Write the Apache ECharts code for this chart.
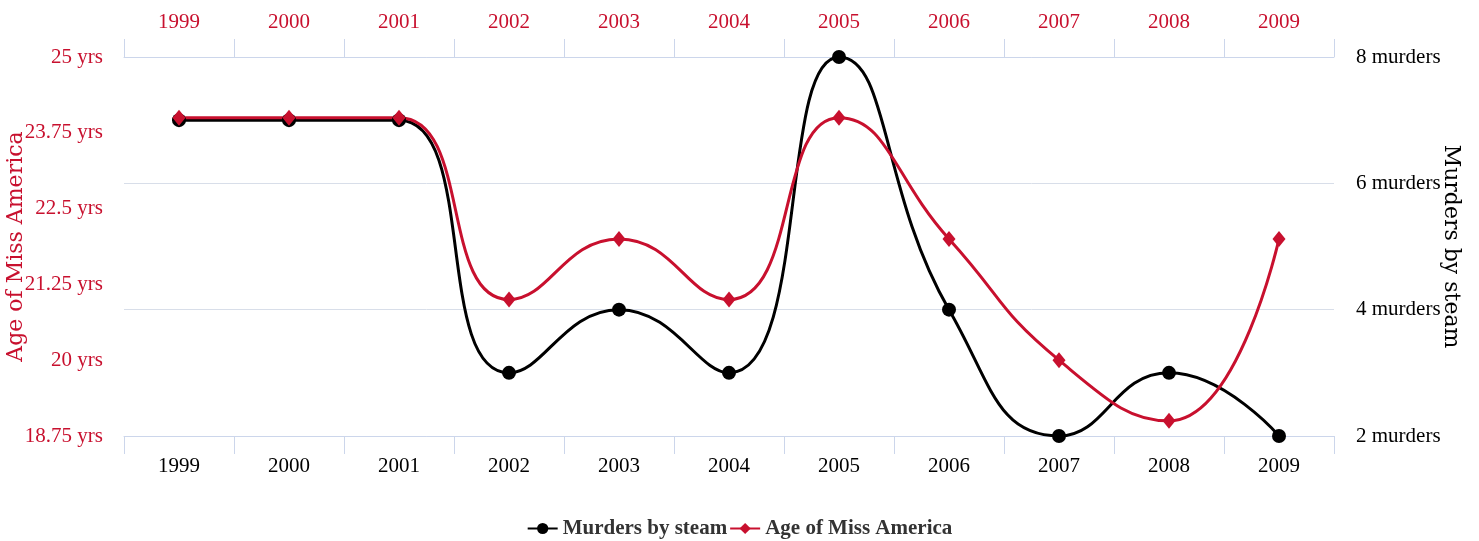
<!DOCTYPE html>
<html>
<head>
<meta charset="utf-8">
<script src="https://cdn.jsdelivr.net/npm/echarts@6/dist/echarts.min.js"></script>
<style>
html,body{margin:0;padding:0;background:#fff;}
#chart{width:1479px;height:541px;}
</style>
</head>
<body>
<div id="chart"></div>
<script>
var years = ['1999','2000','2001','2002','2003','2004','2005','2006','2007','2008','2009'];
var murdersBySteam = [7, 7, 7, 3, 4, 3, 8, 4, 2, 3, 2];
var ageOfMissAmerica = [24, 24, 24, 21, 22, 21, 24, 22, 20, 19, 22];

var RED = '#c8102e';
var AXIS = '#ccd6eb';
var FONT = '"Liberation Serif", "Times New Roman", serif';
var NAMEFONT = '"DejaVu Serif", serif';

var chart = echarts.init(document.getElementById('chart'));
chart.setOption({
  backgroundColor: '#fff',
  animation: false,
  grid: { left: 124, right: 145, top: 57, bottom: 105, containLabel: false, outerBoundsMode: 'none' },
  legend: {
    top: 513,
    left: 'center',
    itemGap: 2,
    itemWidth: 30,
    itemHeight: 14,
    textStyle: { fontFamily: FONT, fontSize: 21, fontWeight: 'bold', color: '#333' },
    data: ['Murders by steam', 'Age of Miss America']
  },
  xAxis: [
    {
      type: 'category', data: years, position: 'bottom', boundaryGap: true,
      axisLine: { show: true, lineStyle: { color: AXIS, width: 1 } },
      axisTick: { show: true, length: 18, lineStyle: { color: AXIS } },
      axisLabel: { color: '#000', fontFamily: FONT, fontSize: 21, margin: 20 },
      splitLine: { show: false }
    },
    {
      type: 'category', data: years, position: 'top', boundaryGap: true,
      axisLine: { show: true, lineStyle: { color: AXIS, width: 1 } },
      axisTick: { show: true, length: 18, lineStyle: { color: AXIS } },
      axisLabel: { color: RED, fontFamily: FONT, fontSize: 21, margin: 24 },
      splitLine: { show: false }
    }
  ],
  yAxis: [
    {
      type: 'value', position: 'left', min: 18.75, max: 25, interval: 1.25,
      name: 'Age of Miss America', nameLocation: 'middle', nameGap: 97, nameMoveOverlap: false,
      nameTextStyle: { color: RED, fontFamily: NAMEFONT, fontSize: 22 },
      axisLine: { show: false }, axisTick: { show: false },
      axisLabel: { color: RED, fontFamily: FONT, fontSize: 21, margin: 21,
        formatter: function (v) { return v + ' yrs'; } },
      splitLine: { show: false }
    },
    {
      type: 'value', position: 'right', min: 2, max: 8, interval: 2,
      name: 'Murders by steam', nameLocation: 'middle', nameGap: 106, nameRotate: -90, nameMoveOverlap: false,
      nameTextStyle: { color: '#000', fontFamily: NAMEFONT, fontSize: 22 },
      axisLine: { show: false }, axisTick: { show: false },
      axisLabel: { color: '#000', fontFamily: FONT, fontSize: 21, margin: 22,
        formatter: function (v) { return v + ' murders'; } },
      splitLine: { show: true, lineStyle: { color: '#d8dee9', width: 1 } }
    }
  ],
  series: [
    {
      name: 'Murders by steam', type: 'line', data: murdersBySteam,
      xAxisIndex: 0, yAxisIndex: 1, smooth: 0.5,
      symbol: 'circle', symbolSize: 14,
      lineStyle: { color: '#000', width: 3 },
      itemStyle: { color: '#000' }
    },
    {
      name: 'Age of Miss America', type: 'line', data: ageOfMissAmerica,
      xAxisIndex: 1, yAxisIndex: 0, smooth: 0.5,
      symbol: 'diamond', symbolSize: [13, 16],
      lineStyle: { color: RED, width: 3 },
      itemStyle: { color: RED }
    }
  ]
});
</script>
</body>
</html>
